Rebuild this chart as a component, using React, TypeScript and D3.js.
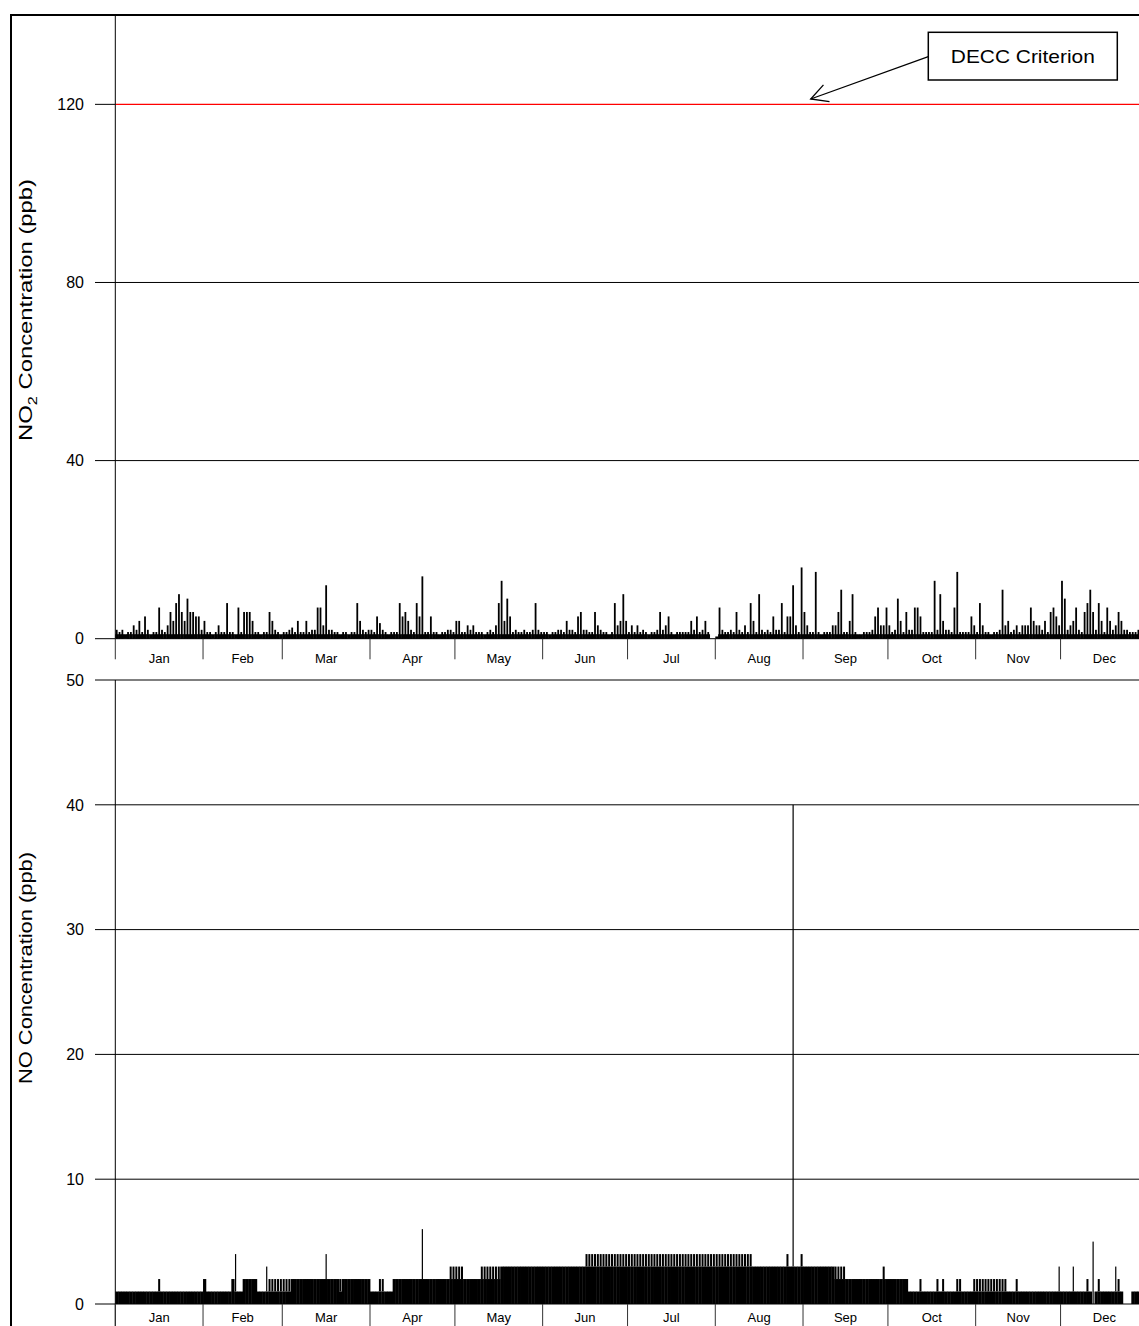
import React from 'react';
import * as d3 from 'd3';

// ---------- data ----------
const YEAR = 2013;
const MONTHS = ['Jan', 'Feb', 'Mar', 'Apr', 'May', 'Jun', 'Jul', 'Aug', 'Sep', 'Oct', 'Nov', 'Dec'];

// NO2 daily peak concentrations (ppb)
const no2Jan = [2, 1.5, 2, 1, 1.5, 1.5, 3, 2, 4, 1.5, 5, 2, 1, 1.5, 1.5, 7, 2, 1.5, 3, 6, 4, 8, 10, 6, 4, 9, 6, 6, 5, 5, 2];
const no2Feb = [4, 1.5, 1.5, 1, 1.5, 3, 1.5, 1.5, 8, 1.5, 1.5, 1, 7, 1.5, 6, 6, 6, 4, 1.5, 1.5, 1, 1.5, 1.5, 6, 4, 2, 1.5, 1];
const no2Mar = [1.5, 1.5, 2, 2.5, 1.5, 4, 1.5, 1.5, 4, 1.5, 2, 2, 7, 7, 3, 12, 2, 2, 1.5, 1.5, 1, 1.5, 1.5, 1, 1.5, 1.5, 8, 4, 2, 1.5, 2];
const no2Apr = [2, 1.5, 5, 3.5, 2, 1.5, 1, 1.5, 1.5, 1.5, 8, 5, 6, 4, 2, 1.5, 8, 5, 14, 1.5, 1.5, 5, 1.5, 1.5, 1, 1.5, 1.5, 2, 2, 1.5];
const no2May = [4, 4, 1.5, 1.5, 3, 2, 3, 1.5, 1.5, 1.5, 1, 1.5, 2, 1.5, 3, 8, 13, 4, 9, 5, 1.5, 2, 1.5, 1.5, 2, 1.5, 1.5, 2, 8, 2, 1.5];
const no2Jun = [1.5, 1.5, 1, 1.5, 1.5, 2, 2, 1.5, 4, 2, 2, 1.5, 5, 6, 2, 2, 1.5, 1.5, 6, 3, 2, 1.5, 1.5, 1, 1.5, 8, 3, 4, 10, 4];
const no2Jul = [1.5, 3, 1.5, 3, 1.5, 2, 1.5, 1, 1.5, 1.5, 2, 6, 2, 3, 5, 1.5, 1, 1.5, 1.5, 1.5, 1.5, 1.5, 4, 2, 5, 1.5, 2, 4, 1.5, 0, 0];
const no2Aug = [0.5, 7, 2, 1.5, 1.5, 2, 1.5, 6, 2, 1.5, 3, 1.5, 8, 4, 1.5, 10, 2, 1.5, 2, 1.5, 5, 2, 2, 8, 1.5, 5, 5, 12, 3, 1.5, 16];
const no2Sep = [6, 3, 1.5, 1.5, 15, 1.5, 1, 1.5, 1.5, 1.5, 3, 3, 6, 11, 1.5, 1.5, 4, 10, 1.5, 1, 1, 1.5, 1.5, 1.5, 2, 5, 7, 3, 3, 7];
const no2Oct = [3, 1.5, 2, 9, 4, 1.5, 6, 2, 2, 7, 7, 5, 1.5, 1.5, 1.5, 1.5, 13, 2, 10, 4, 2, 2, 1.5, 7, 15, 1.5, 1.5, 1.5, 1.5, 5, 3];
const no2Nov = [1.5, 8, 3, 1.5, 1.5, 1, 1.5, 1.5, 2, 11, 3, 4, 1.5, 2, 3, 1.5, 3, 3, 3, 7, 4, 3, 3, 2, 4, 1.5, 6, 7, 5, 3];
const no2Dec = [13, 9, 2, 3, 4, 7, 2, 1.5, 6, 8, 11, 6, 2, 8, 4, 1.5, 7, 4, 2, 3, 6, 4, 2, 2, 1.5, 1.5, 1.5, 2, 1.5, 1.5, 1.5];

// NO daily typical (base) level and daily peak (ppb)
const noBaseJan = [1, 1, 1, 1, 1, 1, 1, 1, 1, 1, 1, 1, 1, 1, 1, 1, 1, 1, 1, 1, 1, 1, 1, 1, 1, 1, 1, 1, 1, 1, 1];
const noPeakJan = [1, 1, 1, 1, 1, 1, 1, 1, 1, 1, 1, 1, 1, 1, 1, 2, 1, 1, 1, 1, 1, 1, 1, 1, 1, 1, 1, 1, 1, 1, 1];
const noBaseFeb = [2, 1, 1, 1, 1, 1, 1, 1, 1, 1, 2, 1, 1, 1, 2, 2, 2, 2, 2, 1, 1, 1, 1, 1, 1, 1, 1, 1];
const noPeakFeb = [2, 1, 1, 1, 1, 1, 1, 1, 1, 1, 2, 4, 1, 1, 2, 2, 2, 2, 2, 1, 1, 1, 3, 2, 2, 2, 2, 2];
const noBaseMar = [1, 1, 1, 2, 2, 2, 2, 2, 2, 2, 2, 2, 2, 2, 2, 2, 2, 2, 2, 2, 1, 2, 2, 2, 2, 2, 2, 2, 2, 2, 2];
const noPeakMar = [2, 2, 2, 2, 2, 2, 2, 2, 2, 2, 2, 2, 2, 2, 2, 4, 2, 2, 2, 2, 2, 2, 2, 2, 2, 2, 2, 2, 2, 2, 2];
const noBaseApr = [1, 1, 1, 1, 1, 1, 1, 1, 2, 2, 2, 2, 2, 2, 2, 2, 2, 2, 2, 2, 2, 2, 2, 2, 2, 2, 2, 2, 2, 2];
const noPeakApr = [1, 1, 1, 2, 2, 1, 1, 1, 2, 2, 2, 2, 2, 2, 2, 2, 2, 2, 6, 2, 2, 2, 2, 2, 2, 2, 2, 2, 3, 3];
const noBaseMay = [2, 2, 2, 2, 2, 2, 2, 2, 2, 2, 2, 2, 2, 2, 2, 2, 3, 3, 3, 3, 3, 3, 3, 3, 3, 3, 3, 3, 3, 3, 3];
const noPeakMay = [3, 3, 3, 2, 2, 2, 2, 2, 2, 3, 3, 3, 3, 3, 3, 3, 3, 3, 3, 3, 3, 3, 3, 3, 3, 3, 3, 3, 3, 3, 3];
const noBaseJun = [3, 3, 3, 3, 3, 3, 3, 3, 3, 3, 3, 3, 3, 3, 3, 3, 3, 3, 3, 3, 3, 3, 3, 3, 3, 3, 3, 3, 3, 3];
const noPeakJun = [3, 3, 3, 3, 3, 3, 3, 3, 3, 3, 3, 3, 3, 3, 3, 4, 4, 4, 4, 4, 4, 4, 4, 4, 4, 4, 4, 4, 4, 4];
const noBaseJul = [3, 3, 3, 3, 3, 3, 3, 3, 3, 3, 3, 3, 3, 3, 3, 3, 3, 3, 3, 3, 3, 3, 3, 3, 3, 3, 3, 3, 3, 3, 3];
const noPeakJul = [4, 4, 4, 4, 4, 4, 4, 4, 4, 4, 4, 4, 4, 4, 4, 4, 4, 4, 4, 4, 4, 4, 4, 4, 4, 4, 4, 4, 4, 4, 4];
const noBaseAug = [3, 3, 3, 3, 3, 3, 3, 3, 3, 3, 3, 3, 3, 3, 3, 3, 3, 3, 3, 3, 3, 3, 3, 3, 3, 3, 3, 3, 3, 3, 3];
const noPeakAug = [4, 4, 4, 4, 4, 4, 4, 4, 4, 4, 4, 4, 4, 3, 3, 3, 3, 3, 3, 3, 3, 3, 3, 3, 3, 4, 3, 40, 3, 3, 4];
const noBaseSep = [3, 3, 3, 3, 3, 3, 3, 3, 3, 3, 3, 2, 2, 2, 2, 2, 2, 2, 2, 2, 2, 2, 2, 2, 2, 2, 2, 2, 2, 2];
const noPeakSep = [3, 3, 3, 3, 3, 3, 3, 3, 3, 3, 3, 3, 3, 3, 3, 2, 2, 2, 2, 2, 2, 2, 2, 2, 2, 2, 2, 2, 3, 2];
const noBaseOct = [2, 2, 2, 2, 2, 2, 2, 1, 1, 1, 1, 1, 1, 1, 1, 1, 1, 1, 1, 1, 1, 1, 1, 1, 1, 1, 1, 1, 1, 1, 1];
const noPeakOct = [2, 2, 2, 2, 2, 2, 2, 1, 1, 1, 1, 2, 1, 1, 1, 1, 1, 2, 1, 2, 1, 1, 1, 1, 2, 2, 1, 1, 1, 1, 2];
const noBaseNov = [1, 1, 1, 1, 1, 1, 1, 1, 1, 1, 1, 1, 1, 1, 1, 1, 1, 1, 1, 1, 1, 1, 1, 1, 1, 1, 1, 1, 1, 1];
const noPeakNov = [2, 2, 2, 2, 2, 2, 2, 2, 2, 2, 2, 1, 1, 1, 2, 1, 1, 1, 1, 1, 1, 1, 1, 1, 1, 1, 1, 1, 1, 3];
const noBaseDec = [1, 1, 1, 1, 1, 1, 1, 1, 1, 1, 1, 0, 1, 1, 1, 1, 1, 1, 1, 1, 1, 1, 0, 0, 0, 1, 1, 1, 1, 1, 1];
const noPeakDec = [1, 1, 1, 1, 3, 1, 1, 1, 1, 2, 1, 5, 1, 2, 1, 1, 1, 1, 1, 3, 2, 1, 0, 0, 0, 1, 1, 1, 1, 1, 1];

const no2Ticks = [0, 40, 80, 120];
const noTicks = [0, 10, 20, 30, 40, 50];
const DECC_LIMIT = 120;
const CALLOUT = 'DECC Criterion';
const TITLE_NO2 = 'NO';
const TITLE_NO2_SUB = '2';
const TITLE_REST = ' Concentration (ppb)';
const TITLE_NO = 'NO Concentration (ppb)';

const FONT = "'Liberation Sans', Arial, Helvetica, sans-serif";

export default function App() {
  const W = 1139;
  const H = 1326;
  const start = new Date(Date.UTC(YEAR, 0, 1));
  const end = new Date(Date.UTC(YEAR + 1, 0, 1));
  const x = d3.scaleUtc().domain([start, end]).range([115.3, 1148.3]);
  const yTop = d3.scaleLinear().domain([0, 140]).range([638.7, 15.3]);
  const yBot = d3.scaleLinear().domain([0, 50]).range([1304, 680]);

  const no2 = [no2Jan, no2Feb, no2Mar, no2Apr, no2May, no2Jun, no2Jul, no2Aug, no2Sep, no2Oct, no2Nov, no2Dec].flat();
  const noBase = [noBaseJan, noBaseFeb, noBaseMar, noBaseApr, noBaseMay, noBaseJun, noBaseJul, noBaseAug, noBaseSep, noBaseOct, noBaseNov, noBaseDec].flat();
  const noPeak = [noPeakJan, noPeakFeb, noPeakMar, noPeakApr, noPeakMay, noPeakJun, noPeakJul, noPeakAug, noPeakSep, noPeakOct, noPeakNov, noPeakDec].flat();

  const dayDate = (i: number) => new Date(Date.UTC(YEAR, 0, 1 + i));
  const dayW = x(dayDate(1)) - x(dayDate(0));
  const months = d3.utcMonth.range(start, end);
  const axisLeft = 115.3;

  const monthAxis = (y0: number, tickLen: number, labelY: number, key: string) => (
    <g key={key}>
      {months.map((m, i) => (
        <line key={'t' + i} x1={x(m)} x2={x(m)} y1={y0} y2={y0 + tickLen} stroke="#333" strokeWidth={1} />
      ))}
      {months.map((m, i) => {
        const mid = new Date((m.getTime() + d3.utcMonth.offset(m, 1).getTime()) / 2);
        return (
          <text key={'l' + i} x={x(mid)} y={labelY} textAnchor="middle" fontSize={13} fontFamily={FONT} fill="#000">
            {MONTHS[i]}
          </text>
        );
      })}
    </g>
  );

  // arrow geometry
  const tip = [810.7, 99];
  const tail = [928.3, 56.7];
  const ang = Math.atan2(tail[1] - tip[1], tail[0] - tip[0]);
  const ah = 19;
  const aw = (28 * Math.PI) / 180;
  const h1 = [tip[0] + ah * Math.cos(ang - aw), tip[1] + ah * Math.sin(ang - aw)];
  const h2 = [tip[0] + ah * Math.cos(ang + aw), tip[1] + ah * Math.sin(ang + aw)];

  return (
    <svg width={W} height={H} style={{ position: 'absolute', left: 0, top: 0, background: '#fff' }}>
      <rect x={0} y={0} width={W} height={H} fill="#fff" />

      {/* ---------- Top chart: NO2 ---------- */}
      {no2Ticks.filter((t) => t !== DECC_LIMIT).map((t) => (
        <line key={'g2' + t} x1={95} x2={W} y1={yTop(t)} y2={yTop(t)} stroke="#000" strokeWidth={1} />
      ))}
      <line x1={95} x2={axisLeft} y1={yTop(DECC_LIMIT)} y2={yTop(DECC_LIMIT)} stroke="#000" strokeWidth={1} />
      <line x1={axisLeft} x2={W} y1={yTop(DECC_LIMIT)} y2={yTop(DECC_LIMIT)} stroke="#ff0000" strokeWidth={1.3} />
      {no2Ticks.map((t) => (
        <text key={'l2' + t} x={84} y={yTop(t)} dy="0.36em" textAnchor="end" fontSize={16} fontFamily={FONT}>
          {t}
        </text>
      ))}

      <g>
        {no2.map((v, i) => {
          const x0 = x(dayDate(i));
          const band = Math.min(v, 1);
          return (
            <g key={'n2' + i}>
              {band > 0 && (
                <rect x={x0} y={yTop(band)} width={dayW + 0.4} height={yTop(0) - yTop(band)} fill="#000" />
              )}
              {v > band && (
                <rect x={x0 + dayW / 2 - 0.9} y={yTop(v)} width={1.8} height={yTop(0) - yTop(v)} fill="#000" />
              )}
            </g>
          );
        })}
      </g>

      <line x1={axisLeft} x2={axisLeft} y1={15} y2={yTop(0)} stroke="#000" strokeWidth={1} />
      {monthAxis(yTop(0), 20.6, 663, 'mx1')}

      <text
        transform={`translate(32, 310) rotate(-90)`}
        textAnchor="middle"
        fontSize={19}
        fontFamily={FONT}
        textLength={262}
        lengthAdjust="spacingAndGlyphs"
      >
        {TITLE_NO2}
        <tspan dy="5" fontSize={13}>{TITLE_NO2_SUB}</tspan>
        <tspan dy="-5">{TITLE_REST}</tspan>
      </text>

      {/* callout */}
      <line x1={tail[0]} y1={tail[1]} x2={tip[0]} y2={tip[1]} stroke="#000" strokeWidth={1.3} />
      <polyline points={`${h1[0]},${h1[1]} ${tip[0]},${tip[1]} ${h2[0]},${h2[1]}`} fill="none" stroke="#000" strokeWidth={1.3} />
      <rect x={928.3} y={32.3} width={189} height={47.7} fill="#fff" stroke="#000" strokeWidth={1.5} />
      <text
        x={1022.8}
        y={56.2}
        dy="0.36em"
        textAnchor="middle"
        fontSize={19}
        fontFamily={FONT}
        textLength={144}
        lengthAdjust="spacingAndGlyphs"
      >
        {CALLOUT}
      </text>

      {/* ---------- Bottom chart: NO ---------- */}
      {noTicks.map((t) => (
        <line key={'g1' + t} x1={95} x2={W} y1={yBot(t)} y2={yBot(t)} stroke="#000" strokeWidth={1} />
      ))}
      {noTicks.map((t) => (
        <text key={'l1' + t} x={84} y={yBot(t)} dy="0.36em" textAnchor="end" fontSize={16} fontFamily={FONT}>
          {t}
        </text>
      ))}
      <g>
        {noBase.map((b, i) => {
          const x0 = x(dayDate(i));
          const p = noPeak[i];
          const w = p - b <= 1 ? 2 : 1.2;
          return (
            <g key={'no' + i}>
              {b > 0 && <rect x={x0} y={yBot(b)} width={dayW + 0.4} height={yBot(0) - yBot(b)} fill="#000" />}
              {p > b && (
                <rect x={x0 + dayW / 2 - w / 2} y={yBot(p)} width={w} height={yBot(b) - yBot(p)} fill="#000" />
              )}
            </g>
          );
        })}
      </g>
      <line x1={axisLeft} x2={axisLeft} y1={yBot(50)} y2={H} stroke="#000" strokeWidth={1} />
      {monthAxis(yBot(0), 24, 1321.5, 'mx2')}

      <text
        transform={`translate(32, 968) rotate(-90)`}
        textAnchor="middle"
        fontSize={19}
        fontFamily={FONT}
        textLength={232}
        lengthAdjust="spacingAndGlyphs"
      >
        {TITLE_NO}
      </text>

      {/* outer frame */}
      <rect x={11} y={15} width={W + 20} height={H + 20} fill="none" stroke="#000" strokeWidth={2} />
    </svg>
  );
}
